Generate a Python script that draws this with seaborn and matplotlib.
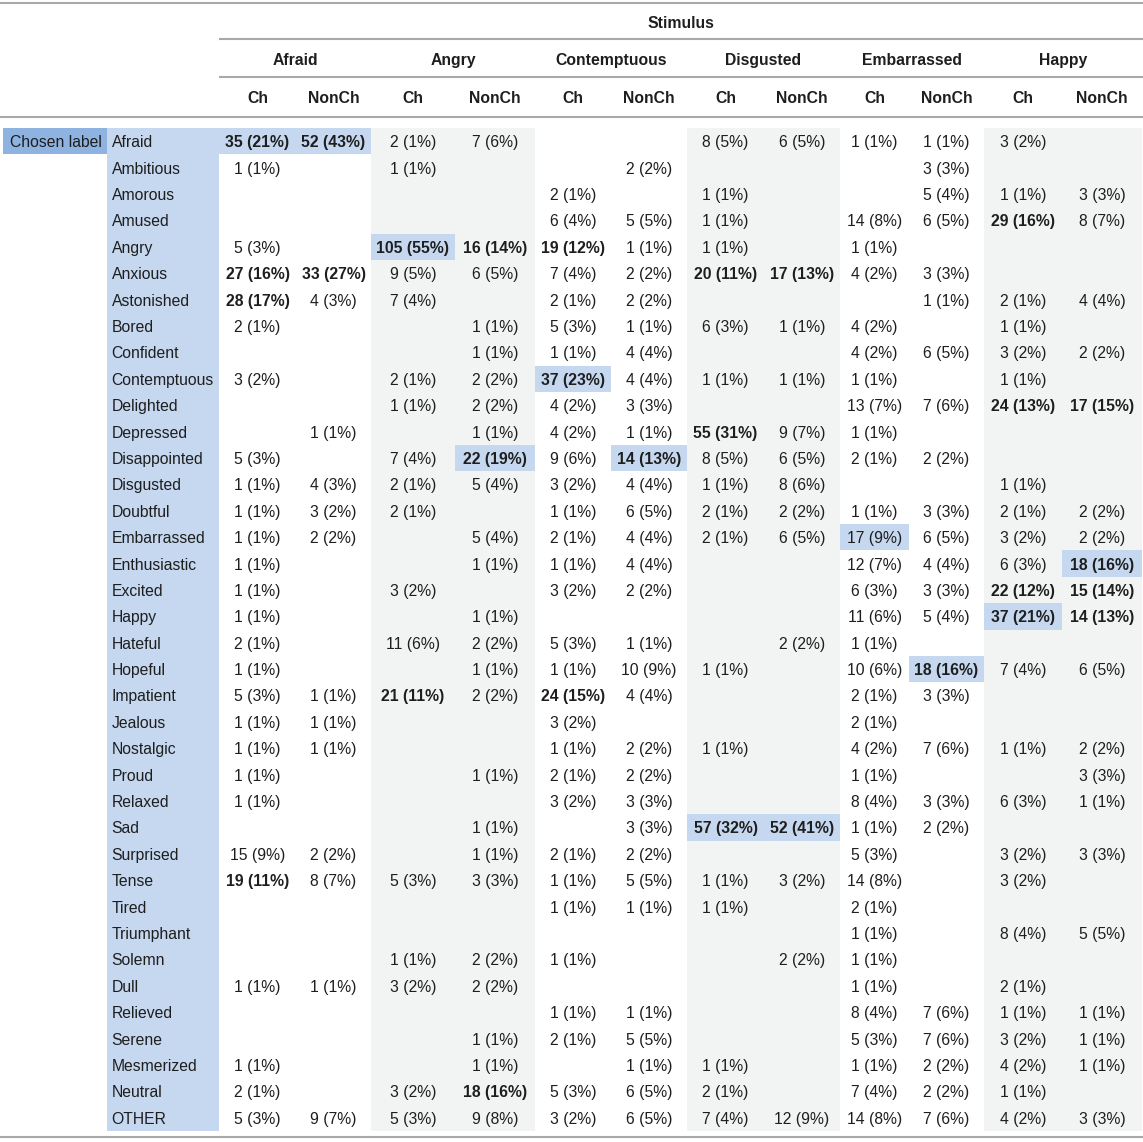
import numpy as np
import matplotlib
matplotlib.use("Agg")
import matplotlib.pyplot as plt
from matplotlib.colors import ListedColormap
from matplotlib.patches import Rectangle
import seaborn as sns

_ = None

STIMULI = ["Afraid", "Angry", "Contemptuous", "Disgusted", "Embarrassed", "Happy"]
GROUPS = ["Ch", "NonCh"]
LABELS = [
    "Afraid", "Ambitious", "Amorous", "Amused", "Angry", "Anxious", "Astonished",
    "Bored", "Confident", "Contemptuous", "Delighted", "Depressed", "Disappointed",
    "Disgusted", "Doubtful", "Embarrassed", "Enthusiastic", "Excited", "Happy",
    "Hateful", "Hopeful", "Impatient", "Jealous", "Nostalgic", "Proud", "Relaxed",
    "Sad", "Surprised", "Tense", "Tired", "Triumphant", "Solemn", "Dull",
    "Relieved", "Serene", "Mesmerized", "Neutral", "OTHER",
]

# counts (n) and row percentages (pct) per stimulus x group, one entry per label
afraid_ch_n = [35, 1, _, _, 5, 27, 28, 2, _, 3, _, _, 5, 1, 1, 1, 1, 1, 1, 2, 1, 5, 1, 1, 1, 1, _, 15, 19, _, _, _, 1, _, _, 1, 2, 5]
afraid_ch_pct = [21, 1, _, _, 3, 16, 17, 1, _, 2, _, _, 3, 1, 1, 1, 1, 1, 1, 1, 1, 3, 1, 1, 1, 1, _, 9, 11, _, _, _, 1, _, _, 1, 1, 3]
afraid_nonch_n = [52, _, _, _, _, 33, 4, _, _, _, _, 1, _, 4, 3, 2, _, _, _, _, _, 1, 1, 1, _, _, _, 2, 8, _, _, _, 1, _, _, _, _, 9]
afraid_nonch_pct = [43, _, _, _, _, 27, 3, _, _, _, _, 1, _, 3, 2, 2, _, _, _, _, _, 1, 1, 1, _, _, _, 2, 7, _, _, _, 1, _, _, _, _, 7]

angry_ch_n = [2, 1, _, _, 105, 9, 7, _, _, 2, 1, _, 7, 2, 2, _, _, 3, _, 11, _, 21, _, _, _, _, _, _, 5, _, _, 1, 3, _, _, _, 3, 5]
angry_ch_pct = [1, 1, _, _, 55, 5, 4, _, _, 1, 1, _, 4, 1, 1, _, _, 2, _, 6, _, 11, _, _, _, _, _, _, 3, _, _, 1, 2, _, _, _, 2, 3]
angry_nonch_n = [7, _, _, _, 16, 6, _, 1, 1, 2, 2, 1, 22, 5, _, 5, 1, _, 1, 2, 1, 2, _, _, 1, _, 1, 1, 3, _, _, 2, 2, _, 1, 1, 18, 9]
angry_nonch_pct = [6, _, _, _, 14, 5, _, 1, 1, 2, 2, 1, 19, 4, _, 4, 1, _, 1, 2, 1, 2, _, _, 1, _, 1, 1, 3, _, _, 2, 2, _, 1, 1, 16, 8]

cont_ch_n = [_, _, 2, 6, 19, 7, 2, 5, 1, 37, 4, 4, 9, 3, 1, 2, 1, 3, _, 5, 1, 24, 3, 1, 2, 3, _, 2, 1, 1, _, 1, _, 1, 2, _, 5, 3]
cont_ch_pct = [_, _, 1, 4, 12, 4, 1, 3, 1, 23, 2, 2, 6, 2, 1, 1, 1, 2, _, 3, 1, 15, 2, 1, 1, 2, _, 1, 1, 1, _, 1, _, 1, 1, _, 3, 2]
cont_nonch_n = [_, 2, _, 5, 1, 2, 2, 1, 4, 4, 3, 1, 14, 4, 6, 4, 4, 2, _, 1, 10, 4, _, 2, 2, 3, 3, 2, 5, 1, _, _, _, 1, 5, 1, 6, 6]
cont_nonch_pct = [_, 2, _, 5, 1, 2, 2, 1, 4, 4, 3, 1, 13, 4, 5, 4, 4, 2, _, 1, 9, 4, _, 2, 2, 3, 3, 2, 5, 1, _, _, _, 1, 5, 1, 5, 5]

disg_ch_n = [8, _, 1, 1, 1, 20, _, 6, _, 1, _, 55, 8, 1, 2, 2, _, _, _, _, 1, _, _, 1, _, _, 57, _, 1, 1, _, _, _, _, _, 1, 2, 7]
disg_ch_pct = [5, _, 1, 1, 1, 11, _, 3, _, 1, _, 31, 5, 1, 1, 1, _, _, _, _, 1, _, _, 1, _, _, 32, _, 1, 1, _, _, _, _, _, 1, 1, 4]
disg_nonch_n = [6, _, _, _, _, 17, _, 1, _, 1, _, 9, 6, 8, 2, 6, _, _, _, 2, _, _, _, _, _, _, 52, _, 3, _, _, 2, _, _, _, _, _, 12]
disg_nonch_pct = [5, _, _, _, _, 13, _, 1, _, 1, _, 7, 5, 6, 2, 5, _, _, _, 2, _, _, _, _, _, _, 41, _, 2, _, _, 2, _, _, _, _, _, 9]

emb_ch_n = [1, _, _, 14, 1, 4, _, 4, 4, 1, 13, 1, 2, _, 1, 17, 12, 6, 11, 1, 10, 2, 2, 4, 1, 8, 1, 5, 14, 2, 1, 1, 1, 8, 5, 1, 7, 14]
emb_ch_pct = [1, _, _, 8, 1, 2, _, 2, 2, 1, 7, 1, 1, _, 1, 9, 7, 3, 6, 1, 6, 1, 1, 2, 1, 4, 1, 3, 8, 1, 1, 1, 1, 4, 3, 1, 4, 8]
emb_nonch_n = [1, 3, 5, 6, _, 3, 1, _, 6, _, 7, _, 2, _, 3, 6, 4, 3, 5, _, 18, 3, _, 7, _, 3, 2, _, _, _, _, _, _, 7, 7, 2, 2, 7]
emb_nonch_pct = [1, 3, 4, 5, _, 3, 1, _, 5, _, 6, _, 2, _, 3, 5, 4, 3, 4, _, 16, 3, _, 6, _, 3, 2, _, _, _, _, _, _, 6, 6, 2, 2, 6]

happy_ch_n = [3, _, 1, 29, _, _, 2, 1, 3, 1, 24, _, _, 1, 2, 3, 6, 22, 37, _, 7, _, _, 1, _, 6, _, 3, 3, _, 8, _, 2, 1, 3, 4, 1, 4]
happy_ch_pct = [2, _, 1, 16, _, _, 1, 1, 2, 1, 13, _, _, 1, 1, 2, 3, 12, 21, _, 4, _, _, 1, _, 3, _, 2, 2, _, 4, _, 1, 1, 2, 2, 1, 2]
happy_nonch_n = [_, _, 3, 8, _, _, 4, _, 2, _, 17, _, _, _, 2, 2, 18, 15, 14, _, 6, _, _, 2, 3, 1, _, 3, _, _, 5, _, _, 1, 1, 1, _, 3]
happy_nonch_pct = [_, _, 3, 7, _, _, 4, _, 2, _, 15, _, _, _, 2, 2, 16, 14, 13, _, 5, _, _, 2, 3, 1, _, 3, _, _, 5, _, _, 1, 1, 1, _, 3]

N_COLS = [afraid_ch_n, afraid_nonch_n, angry_ch_n, angry_nonch_n, cont_ch_n, cont_nonch_n,
          disg_ch_n, disg_nonch_n, emb_ch_n, emb_nonch_n, happy_ch_n, happy_nonch_n]
PCT_COLS = [afraid_ch_pct, afraid_nonch_pct, angry_ch_pct, angry_nonch_pct, cont_ch_pct, cont_nonch_pct,
            disg_ch_pct, disg_nonch_pct, emb_ch_pct, emb_nonch_pct, happy_ch_pct, happy_nonch_pct]

# layout (pixels)
W, H = 1143, 1142
COL_EDGES = [107, 219, 296, 371, 455, 535, 611, 687, 764, 840, 909, 984, 1062, 1142]
ROW_TOP, ROW_BOTTOM = 128, 1131

WHITE = "#ffffff"
GRAY = "#f2f3f3"
BLUE = "#c5d8ef"
DARK_BLUE = "#8fb3e0"
RULE = "#a8a8a8"
INK = "#1e1e1e"

sns.set_theme(style="white")
plt.rcParams["font.family"] = ["Liberation Sans", "DejaVu Sans"]
FS = 11.3

counts = np.array(N_COLS, dtype=float).T
pcts = np.array(PCT_COLS, dtype=float).T
n_rows, n_data = counts.shape

# background codes: 0 white, 1 grey band, 2 blue
codes = np.zeros((n_rows, n_data + 1))
codes[:, 0] = 2
for j in range(n_data):
    if (j // 2) % 2 == 1:
        codes[:, j + 1] = 1
    codes[np.nanargmax(counts[:, j]), j + 1] = 2

fig = plt.figure(figsize=(W / 100, H / 100), dpi=100)

# overlay in pixel coordinates for rules and headers
bg = fig.add_axes([0, 0, 1, 1])
bg.set_xlim(0, W)
bg.set_ylim(H, 0)
bg.set_axis_off()

x0, x1 = COL_EDGES[0], COL_EDGES[-1]
ax = fig.add_axes([x0 / W, (H - ROW_BOTTOM) / H, (x1 - x0) / W, (ROW_BOTTOM - ROW_TOP) / H])
sns.heatmap(codes, cmap=ListedColormap([WHITE, GRAY, BLUE]), vmin=-0.5, vmax=2.5,
            cbar=False, ax=ax, xticklabels=False, yticklabels=False)

idx = np.arange(len(COL_EDGES), dtype=float)
edges = np.array(COL_EDGES, dtype=float)
ax.set_xscale("function", functions=(lambda v: np.interp(v, idx, edges),
                                     lambda p: np.interp(p, edges, idx)))
ax.set_xlim(0, n_data + 1)
ax.set_ylim(n_rows, 0)
ax.set_axis_off()

for i, lab in enumerate(LABELS):
    ax.text(0.04, i + 0.5, lab, ha="left", va="center_baseline", fontsize=FS, color=INK)
    for j in range(n_data):
        n = counts[i, j]
        if np.isnan(n):
            continue
        p = pcts[i, j]
        ax.text(j + 1.5, i + 0.5, f"{int(n)} ({int(p)}%)", ha="center", va="center_baseline",
                fontsize=FS, color=INK, fontweight="bold" if p >= 10 else "normal")

# "Chosen label" cell
bg.add_patch(Rectangle((3, ROW_TOP), COL_EDGES[0] - 3, (ROW_BOTTOM - ROW_TOP) / n_rows,
                       facecolor=DARK_BLUE, edgecolor="none"))
bg.text((3 + COL_EDGES[0]) / 2 + 1, ROW_TOP + (ROW_BOTTOM - ROW_TOP) / n_rows / 2, "Chosen label",
        ha="center", va="center_baseline", fontsize=FS, color=INK)

# header
data_left = COL_EDGES[1]
bg.text((data_left + W) / 2, 22, "Stimulus", ha="center", va="center_baseline",
        fontsize=FS, fontweight="bold", color=INK)
for g, name in enumerate(STIMULI):
    left, right = COL_EDGES[1 + 2 * g], COL_EDGES[3 + 2 * g]
    bg.text((left + right) / 2, 59, name, ha="center", va="center_baseline",
            fontsize=FS, fontweight="bold", color=INK)
    for k, sub in enumerate(GROUPS):
        c = (COL_EDGES[1 + 2 * g + k] + COL_EDGES[2 + 2 * g + k]) / 2
        bg.text(c, 97, sub, ha="center", va="center_baseline",
                fontsize=FS, fontweight="bold", color=INK)

for y, xa in [(3, 0), (39, data_left), (77, data_left), (117, 0), (1137, 0)]:
    bg.plot([xa, W], [y, y], color=RULE, lw=1.5, solid_capstyle="butt")

fig.savefig("out.png", dpi=100)
